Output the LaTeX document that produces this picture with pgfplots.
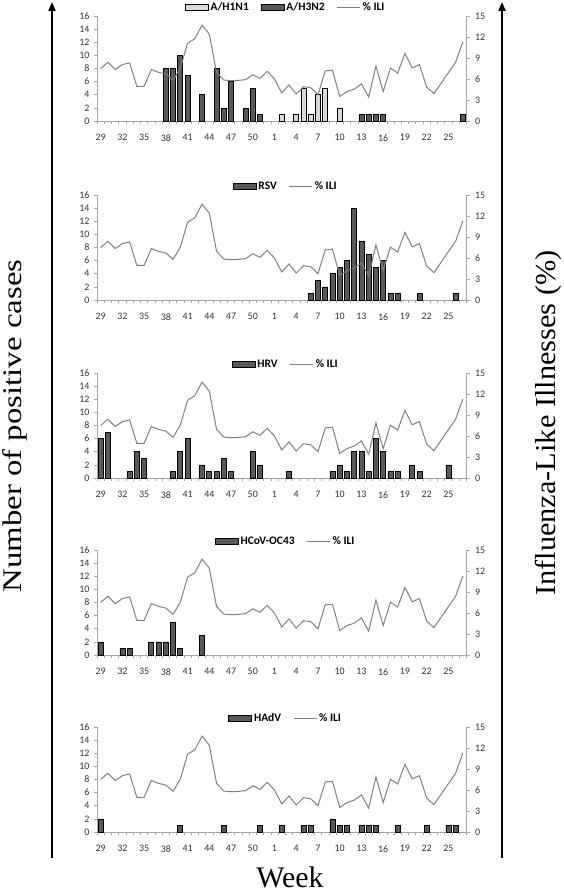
\documentclass[border=0pt]{standalone}
\usepackage{fontspec}
\setmainfont{Carlito}
\newfontfamily\tnr{Liberation Serif}
\usepackage{graphicx}
\usepackage{pgfplots}
\pgfplotsset{compat=1.18}
\usepackage{pgfplotstable}
\usetikzlibrary{arrows.meta}
\definecolor{darkbar}{HTML}{595959}
\definecolor{lightbar}{HTML}{D9D9D9}
\definecolor{ilicol}{HTML}{808080}
\definecolor{axcol}{HTML}{A6A6A6}
\definecolor{txtcol}{HTML}{333333}

% index 0..23 = weeks 29..52, index 24..50 = weeks 1..27
\pgfplotstableread{
i ili
0 7.5
1 8.4
2 7.35
3 8.05
4 8.3
5 4.95
6 4.95
7 7.35
8 6.95
9 6.7
10 5.8
11 7.55
12 11.1
13 11.75
14 13.7
15 12.4
16 6.95
17 5.85
18 5.75
19 5.8
20 5.9
21 6.6
22 6.1
23 7.1
24 6.0
25 4.0
26 5.15
27 3.85
28 4.9
29 4.75
30 3.75
31 7.15
32 7.25
33 3.5
34 4.2
35 4.55
36 5.3
37 3.4
38 7.85
39 4.2
40 7.55
41 6.85
42 9.65
43 7.6
44 8.05
45 4.85
46 3.9
47 5.4
48 6.9
49 8.4
50 11.3
}\ilitable

\pgfplotsset{
  panel/.style={scale only axis, width=369.5bp, height=105bp, xmin=-0.5, xmax=50.5,
    /pgf/number format/assume math mode=true,
    tick label style={font=\fontsize{10}{11}\selectfont, text=txtcol},
    axis line style={draw=axcol, line width=0.6bp},
    tick style={draw=axcol, line width=0.6bp},
    tick align=outside, clip=false},
  leftax/.style={panel, ymin=0, ymax=16, ytick={0,2,...,16}, minor ytick={0,2,...,16},
    axis x line*=bottom, axis y line*=left,
    xtick={0,3,...,48}, xticklabels={29,32,35,38,41,44,47,50,1,4,7,10,13,16,19,22,25},
    minor xtick={-0.5,0.5,...,50.5},
    major tick length=0pt, minor tick length=3bp,
    xticklabel style={yshift=-10bp}, yticklabel style={xshift=-4bp},
    ybar, bar width=5bp},
  rightax/.style={panel, ymin=0, ymax=15, ytick={0,3,...,15},
    axis x line=none, axis y line*=right, major tick length=3bp,
    yticklabel style={xshift=2bp},
    legend columns=-1,
    legend style={draw=none, fill=none, at={(0.5,1)}, anchor=south, xshift=4bp, yshift=2bp,
      inner sep=0pt, font=\bfseries\fontsize{11.5}{13}\selectfont,
      /tikz/every even column/.append style={column sep=10bp}}},
  dk/.style={fill=darkbar, draw=black, line width=0.7bp, bar shift=0pt},
  lt/.style={fill=lightbar, draw=black, line width=0.7bp, bar shift=0pt},
  ililine/.style={ilicol, line width=1bp, mark=none},
}

\begin{document}
\begin{tikzpicture}[x=1bp,y=1bp]
\path[use as bounding box] (0,0) rectangle (564,893);

% ---------- Panel 1: influenza ----------
\begin{axis}[leftax, at={(97bp,772bp)}, anchor=south west]
\addplot[lt] coordinates {(25,1) (27,1) (28,5) (29,1) (30,4) (31,5) (33,2)};
\addplot[dk] coordinates {(9,8) (10,8) (11,10) (12,7) (14,4) (16,8) (17,2) (18,6) (20,2) (21,5) (22,1) (36,1) (37,1) (38,1) (39,1) (50,1)};
\end{axis}
\begin{axis}[rightax, at={(97bp,772bp)}, anchor=south west]
\addlegendimage{legend image code/.code={\draw[fill=lightbar,draw=black,line width=0.6bp] (0bp,-3bp) rectangle (23bp,3bp);}}
\addlegendentry{A/H1N1}
\addlegendimage{legend image code/.code={\draw[fill=darkbar,draw=black,line width=0.6bp] (0bp,-3bp) rectangle (23bp,3bp);}}
\addlegendentry{A/H3N2}
\addplot[ililine, legend image code/.code={\draw[ilicol,line width=1bp] (0bp,0bp) -- (23bp,0bp);}] table[x=i,y=ili] {\ilitable};
\addlegendentry{\% ILI}
\end{axis}

% ---------- Panel 2: RSV ----------
\begin{axis}[leftax, at={(97bp,593bp)}, anchor=south west]
\addplot[dk] coordinates {(29,1) (30,3) (31,2) (32,4) (33,5) (34,6) (35,14) (36,9) (37,7) (38,5) (39,6) (40,1) (41,1) (44,1) (49,1)};
\end{axis}
\begin{axis}[rightax, at={(97bp,593bp)}, anchor=south west]
\addlegendimage{legend image code/.code={\draw[fill=darkbar,draw=black,line width=0.6bp] (0bp,-3bp) rectangle (23bp,3bp);}}
\addlegendentry{RSV}
\addplot[ililine, legend image code/.code={\draw[ilicol,line width=1bp] (0bp,0bp) -- (23bp,0bp);}] table[x=i,y=ili] {\ilitable};
\addlegendentry{\% ILI}
\end{axis}

% ---------- Panel 3: HRV ----------
\begin{axis}[leftax, at={(97bp,415bp)}, anchor=south west]
\addplot[dk] coordinates {(0,6) (1,7) (4,1) (5,4) (6,3) (10,1) (11,4) (12,6) (14,2) (15,1) (16,1) (17,3) (18,1) (21,4) (22,2) (26,1) (32,1) (33,2) (34,1) (35,4) (36,4) (37,1) (38,6) (39,4) (40,1) (41,1) (43,2) (44,1) (48,2)};
\end{axis}
\begin{axis}[rightax, at={(97bp,415bp)}, anchor=south west]
\addlegendimage{legend image code/.code={\draw[fill=darkbar,draw=black,line width=0.6bp] (0bp,-3bp) rectangle (23bp,3bp);}}
\addlegendentry{HRV}
\addplot[ililine, legend image code/.code={\draw[ilicol,line width=1bp] (0bp,0bp) -- (23bp,0bp);}] table[x=i,y=ili] {\ilitable};
\addlegendentry{\% ILI}
\end{axis}

% ---------- Panel 4: HCoV-OC43 ----------
\begin{axis}[leftax, at={(97bp,238bp)}, anchor=south west]
\addplot[dk] coordinates {(0,2) (3,1) (4,1) (7,2) (8,2) (9,2) (10,5) (11,1) (14,3)};
\end{axis}
\begin{axis}[rightax, at={(97bp,238bp)}, anchor=south west]
\addlegendimage{legend image code/.code={\draw[fill=darkbar,draw=black,line width=0.6bp] (0bp,-3bp) rectangle (23bp,3bp);}}
\addlegendentry{HCoV-OC43}
\addplot[ililine, legend image code/.code={\draw[ilicol,line width=1bp] (0bp,0bp) -- (23bp,0bp);}] table[x=i,y=ili] {\ilitable};
\addlegendentry{\% ILI}
\end{axis}

% ---------- Panel 5: HAdV ----------
\begin{axis}[leftax, at={(97bp,61bp)}, anchor=south west]
\addplot[dk] coordinates {(0,2) (11,1) (17,1) (22,1) (25,1) (28,1) (29,1) (32,2) (33,1) (34,1) (36,1) (37,1) (38,1) (41,1) (45,1) (48,1) (49,1)};
\end{axis}
\begin{axis}[rightax, at={(97bp,61bp)}, anchor=south west]
\addlegendimage{legend image code/.code={\draw[fill=darkbar,draw=black,line width=0.6bp] (0bp,-3bp) rectangle (23bp,3bp);}}
\addlegendentry{HAdV}
\addplot[ililine, legend image code/.code={\draw[ilicol,line width=1bp] (0bp,0bp) -- (23bp,0bp);}] table[x=i,y=ili] {\ilitable};
\addlegendentry{\% ILI}
\end{axis}

% ---------- outer labels and arrows ----------
\draw[line width=2bp, -{Triangle[length=9bp,width=7bp]}] (52,35) -- (52,891);
\draw[line width=2bp, -{Triangle[length=9bp,width=7bp]}] (502,35) -- (502,891);
\node[rotate=90, inner sep=0pt, font=\tnr\fontsize{27}{27}\selectfont] at (15,467) {\scalebox{1.22}[1]{Number of positive cases}};
\node[rotate=90, inner sep=0pt, font=\tnr\fontsize{29}{29}\selectfont] at (548,470) {\scalebox{1.05}[1]{Influenza-Like Illnesses (\%)}};
\node[font=\tnr\fontsize{30}{30}\selectfont] at (290,16) {Week};
\end{tikzpicture}
\end{document}
